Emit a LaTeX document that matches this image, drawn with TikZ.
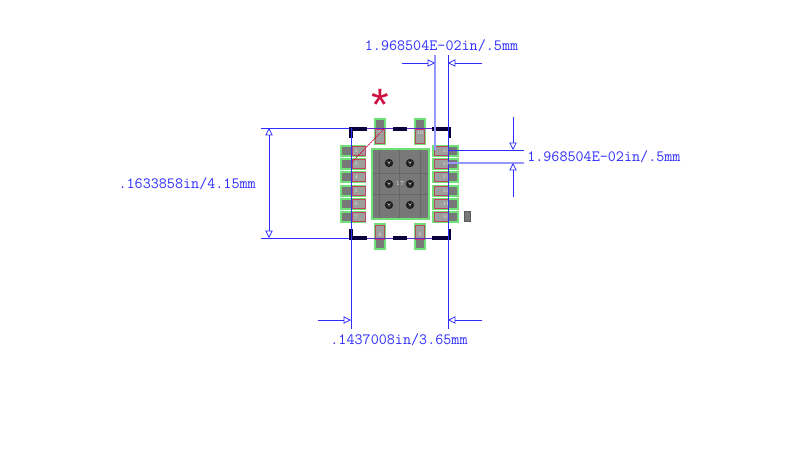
\documentclass[tikz,border=0pt]{standalone}
\usetikzlibrary{arrows.meta}
\usepackage{fontspec}
\setmonofont{Latin Modern Mono}
\newfontfamily\starfont{Liberation Sans}
\definecolor{dimblue}{RGB}{45,45,255}
\definecolor{dimlight}{RGB}{150,150,255}
\definecolor{dimviolet}{RGB}{95,35,200}
\definecolor{padgreen}{RGB}{110,225,120}
\definecolor{padgray}{RGB}{120,120,120}
\definecolor{padlight}{RGB}{158,158,158}
\definecolor{padred}{RGB}{190,70,95}
\definecolor{crim}{RGB}{205,15,65}
\definecolor{silk}{RGB}{10,0,60}
\tikzset{
 dimline/.style={draw=dimblue,line width=0.6pt},
 dimfaint/.style={draw=dimlight,line width=0.9pt},
 dimacross/.style={draw=dimviolet,line width=0.6pt},
 dimarrow/.style={dimline,-{Triangle[open,length=5.5pt,width=5.5pt]}},
 dimtext/.style={text=dimblue,font=\ttfamily\fontsize{11.75}{12}\selectfont,inner sep=0pt},
 greenpad/.style={fill=padgreen},
 graypad/.style={fill=padgray},
 redpad/.style={draw=padred,fill=padlight,line width=0.65pt},
 silkline/.style={draw=silk,line width=2.9pt},
 via/.style={circle,fill=black!88,minimum size=6.2pt,inner sep=0pt},
 viamark/.style={draw=white,line width=0.3pt},
 padgrid/.style={draw=black!60!padgray,line width=0.4pt,opacity=0.22},
 padnum/.style={text=white!80!gray,font=\fontsize{3.8}{4}\selectfont,inner sep=0pt}
}
\begin{document}
\begin{tikzpicture}[x=0.75pt,y=-0.75pt]
\useasboundingbox (0,0) rectangle (800,455);
% left pads
\foreach \y/\n in {145/2,158/3,171/4,185/5,198/6,211/7}{
 \fill[greenpad] (340,\y) rectangle (366,\y+12);
 \fill[graypad] (342,\y+2) rectangle (364,\y+10);
 \draw[redpad] (352,\y+1.5) rectangle (365,\y+10.5);
 \node[padnum] (L\n) at (356,\y+6) {\n};
}
% right pads
\foreach \y/\n in {145/15,158/14,171/13,185/12,198/11,211/10}{
 \fill[greenpad] (432,\y) rectangle (459,\y+12);
 \fill[graypad] (434,\y+2) rectangle (457,\y+10);
 \draw[redpad] (434,\y+1.5) rectangle (448,\y+10.5);
 \node[padnum] (R\n) at (446,\y+6) {\n};
}
% top and bottom pads
\foreach \x/\t/\b in {374/1/8,414/16/9}{
 \fill[greenpad] (\x,118) rectangle (\x+12,145);
 \fill[graypad] (\x+2,120) rectangle (\x+10,143);
 \draw[redpad] (\x+1.5,129) rectangle (\x+10.5,143);
 \node[padnum] (T\t) at (\x+6,133) {\t};
 \fill[greenpad] (\x,223) rectangle (\x+12,250);
 \fill[graypad] (\x+2,225) rectangle (\x+10,248);
 \draw[redpad] (\x+1.5,225) rectangle (\x+10.5,239);
 \node[padnum] (B\b) at (\x+6,235) {\b};
}
% centre pad
\fill[greenpad] (371,148) rectangle (430,220);
\fill[graypad] (373,150) rectangle (428,218);
\foreach \x in {379,399.5,420}
 \draw[padgrid] (\x,150) -- (\x,218);
\foreach \y in {173,194}
 \draw[padgrid] (373,\y) -- (428,\y);
\foreach \x/\y/\n in {389/163/a,410/163/b,389/184/c,410/184/d,389/205/e,410/205/f}{
 \node[via] (v\n) at (\x,\y) {};
 \draw[viamark] (\x-1.5,\y-1.5) -- (\x,\y+0.3) -- (\x+1.5,\y-1.5) (\x,\y+0.3) -- (\x,\y+2);
}
\node[padnum,font=\fontsize{4.5}{5}\selectfont] (n17) at (400,184) {17};
% small mark
\fill[draw=black!65,line width=0.9pt,fill=padgray] (464.5,211.5) rectangle (470.5,221.5);
% pin-one leader and star
\coordinate (leadA) at (352,162);
\coordinate (leadB) at (384,129);
\draw[crim,line width=0.6pt,dash pattern=on 1.5pt off 0.7pt] (leadA) -- (leadB);
\node[text=crim,font=\starfont\fontsize{34}{34}\selectfont,inner sep=0pt] (star) at (380,105) {*};
% dimension lines: height
\coordinate (hT0) at (261,128); \coordinate (hT1) at (351,128); \coordinate (hT2) at (448,128);
\coordinate (hB0) at (261,238); \coordinate (hB1) at (351,238); \coordinate (hB2) at (448,238);
\draw[dimline] (hT0) -- (hT1);
\draw[dimline] (hB0) -- (hB1);
\draw[dimacross] (hT1) -- (hT2);
\draw[dimacross] (hB1) -- (hB2);
\coordinate (hA) at (269,128); \coordinate (hC) at (269,238); \coordinate (hM) at (269,183);
\draw[dimarrow] (hM) -- (hA);
\draw[dimarrow] (hM) -- (hC);
\node[dimtext,anchor=east] (hL) at (256,184) {.1633858in/4.15mm};
% silkscreen outline
\draw[silkline] (351,138) -- (351,129) -- (367,129);
\draw[silkline] (393,129) -- (407,129);
\draw[silkline] (432,129) -- (449.5,129) -- (449.5,138);
\draw[silkline] (351,229) -- (351,238) -- (367,238);
\draw[silkline] (393,238) -- (407,238);
\draw[silkline] (432,238) -- (449.5,238) -- (449.5,229);
% dimension: width
\coordinate (wL0) at (351,128); \coordinate (wL1) at (351,329);
\coordinate (wR0) at (448,55); \coordinate (wR1) at (448,329);
\draw[dimline] (wL0) -- (wL1);
\draw[dimline] (wR0) -- (wR1);
\coordinate (wA) at (318,320); \coordinate (wB) at (351,320);
\coordinate (wC) at (482,320); \coordinate (wD) at (448,320);
\draw[dimarrow] (wA) -- (wB);
\draw[dimarrow] (wC) -- (wD);
\node[dimtext] (wT) at (399,340) {.1437008in/3.65mm};
% dimension: top pitch
\coordinate (pL0) at (435,55); \coordinate (pL1) at (435,150);
\draw[dimfaint] (pL0) -- (pL1);
\coordinate (pA) at (402,63); \coordinate (pB) at (435,63);
\coordinate (pC) at (482,63); \coordinate (pD) at (448,63);
\draw[dimarrow] (pA) -- (pB);
\draw[dimarrow] (pC) -- (pD);
\node[dimtext] (pT) at (441.5,46) {1.968504E-02in/.5mm};
% dimension: right pitch
\coordinate (qT0) at (448,150); \coordinate (qT1) at (524,150);
\coordinate (qB0) at (448,163); \coordinate (qB1) at (524,163);
\draw[dimline] (qT0) -- (qT1);
\draw[dimfaint] (qB0) -- (qB1);
\coordinate (qA) at (513,117); \coordinate (qB) at (513,150);
\coordinate (qC) at (513,197); \coordinate (qD) at (513,163);
\draw[dimarrow] (qA) -- (qB);
\draw[dimarrow] (qC) -- (qD);
\node[dimtext,anchor=west] (qL) at (527,157) {1.968504E-02in/.5mm};
\end{tikzpicture}
\end{document}
